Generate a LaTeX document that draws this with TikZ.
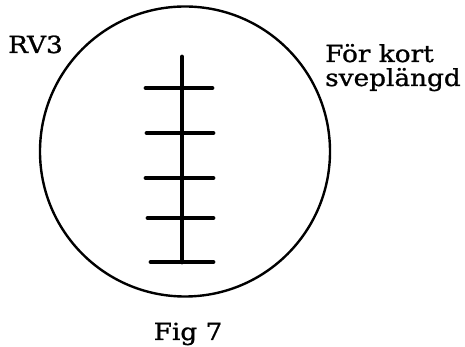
\documentclass[tikz,border=0pt]{standalone}
\usepackage{fontspec}
\setmainfont[FakeStretch=1.12, FakeBold=1]{DejaVu Serif}
\usetikzlibrary{positioning}

\begin{document}
\begin{tikzpicture}[x=1pt, y=1pt]
        \useasboundingbox (0,0) rectangle (465,347);
        % Screen
        \node[draw, circle, line width=2.4pt, minimum size=290pt, inner sep=0pt] (screen) at (185,195.5) {};

        % Trace
        \draw[line width=4.8pt, line cap=round] (182,290) -- (182,85);
        \draw[line width=4.8pt, line cap=round] (146,259) -- (212,259);
        \draw[line width=4.8pt, line cap=round] (147,214) -- (213,214);
        \draw[line width=4.8pt, line cap=round] (146,169) -- (213,169);
        \draw[line width=4.8pt, line cap=round] (148,129) -- (213,129);
        \draw[line width=4.8pt, line cap=round] (151,85) -- (213,85);

        % Labels
        \node[font=\fontsize{23.5}{28}\selectfont, anchor=base west, inner sep=0pt] (rv) at (8,294) {RV3};
        \node[font=\fontsize{23.5}{28}\selectfont, anchor=base west, inner sep=0pt] (kort) at (325,285) {För kort};
        \node[font=\fontsize{23.5}{28}\selectfont, anchor=base west, inner sep=0pt] (svep) at (325,261) {sveplängd};
        \node[font=\fontsize{23.5}{28}\selectfont, anchor=base, inner sep=0pt] (fig) at (188,7) {Fig 7};
    \end{tikzpicture}
\end{document}
